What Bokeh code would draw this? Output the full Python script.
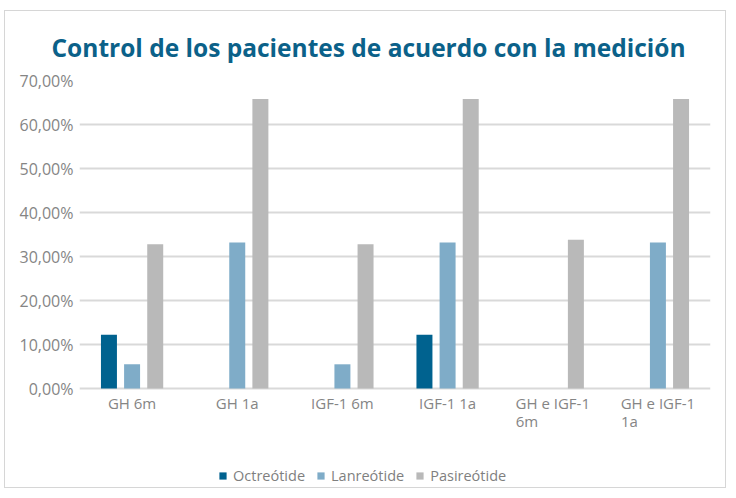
from bokeh.plotting import figure
from bokeh.models import (FactorRange, Range1d, FixedTicker, Legend, LegendItem,
                          ColumnDataSource)
from bokeh.transform import dodge
from bokeh.core.properties import value
from bokeh.embed import file_html
from bokeh.resources import INLINE

categories = ["GH 6m", "GH 1a", "IGF-1 6m", "IGF-1 1a", "GH e IGF-1\n6m", "GH e IGF-1\n1a"]
octreotide = [12.2, 0, 0, 12.2, 0, 0]
lanreotide = [5.5, 33.2, 5.5, 33.2, 0, 33.2]
pasireotide = [32.8, 65.8, 32.8, 65.8, 33.8, 65.8]
series_keys = ["Octreotide", "Lanreotide", "Pasireotide"]
series_names = ["Octreótide", "Lanreótide", "Pasireótide"]
colors = ["#00628f", "#7facc8", "#b9b9b9"]
y_ticks = [0, 10, 20, 30, 40, 50, 60, 70]
y_labels = ["0,00%", "10,00%", "20,00%", "30,00%", "40,00%", "50,00%", "60,00%", "70,00%"]

first_lines = [c.split("\n")[0] for c in categories]
wrapped = [c for c in categories if "\n" in c]
second_lines = [c.split("\n")[1] for c in wrapped]

# frame geometry: 0..70 occupies 308 px, frame continues 100 px below zero
plot_px = 308
below_px = 100
y_max = 70
y_min = -below_px * y_max / plot_px

src = ColumnDataSource(dict(cat=categories, Octreotide=octreotide,
                            Lanreotide=lanreotide, Pasireotide=pasireotide))

p = figure(width=722, height=478, x_range=FactorRange(factors=categories, range_padding=0),
           y_range=Range1d(y_min, y_max), output_backend="svg", toolbar_location=None,
           min_border_left=74, min_border_right=17, min_border_top=69, min_border_bottom=1,
           styles={"border": "1px solid #d6d6d6", "margin-left": "4px", "margin-top": "10px"})

p.title.text = "Control de los pacientes de acuerdo con la medición"
p.title.align = "left"
p.title.offset = -28
p.title.text_font = "Open Sans"
p.title.text_font_size = "24.5px"
p.title.text_font_style = "bold"
p.title.text_color = "#0b6189"
p.title.standoff = 33

offsets = [-0.22, 0.0, 0.22]
items = []
for key, name, col, off in zip(series_keys, series_names, colors, offsets):
    r = p.vbar(x=dodge("cat", off, range=p.x_range), top=key, width=0.152, bottom=0,
               source=src, fill_color=col, line_color=None)
    items.append(LegendItem(label=name, renderers=[r]))

legend = Legend(items=items, orientation="horizontal", location=(139, 3),
                glyph_width=9, glyph_height=9, label_text_font="Open Sans",
                label_text_font_size="14.5px", label_text_color="#7f7f7f",
                spacing=11, label_standoff=6, border_line_color=None,
                background_fill_alpha=0, padding=4, margin=0)
p.add_layout(legend, "center")

# category labels
lab1 = ColumnDataSource(dict(x=categories, y=[0] * len(categories), text=first_lines))
p.text(x="x", y="y", text="text", source=lab1, y_offset=14, text_align="center",
       text_baseline="middle", text_font=value("Open Sans"), text_font_size="15px",
       text_color="#858585")
lab2 = ColumnDataSource(dict(x=wrapped, y=[0] * len(wrapped), text=second_lines))
p.text(x="x", y="y", text="text", source=lab2, x_offset=-37, y_offset=32,
       text_align="left", text_baseline="middle", text_font=value("Open Sans"),
       text_font_size="15px", text_color="#858585")

p.xaxis.visible = False

p.yaxis.ticker = FixedTicker(ticks=y_ticks)
p.yaxis.major_label_overrides = {t: l for t, l in zip(y_ticks, y_labels)}
p.yaxis.axis_line_color = None
p.yaxis.major_tick_line_color = None
p.yaxis.minor_tick_line_color = None
p.yaxis.major_label_text_font = "Open Sans"
p.yaxis.major_label_text_font_size = "16px"
p.yaxis.major_label_text_color = "#858585"
p.yaxis.major_label_standoff = 0

p.xgrid.grid_line_color = None
p.ygrid.grid_line_color = "#d9d9d9"
p.ygrid.grid_line_width = 2
p.outline_line_color = None

open("out.html", "w").write(file_html(p, INLINE))
